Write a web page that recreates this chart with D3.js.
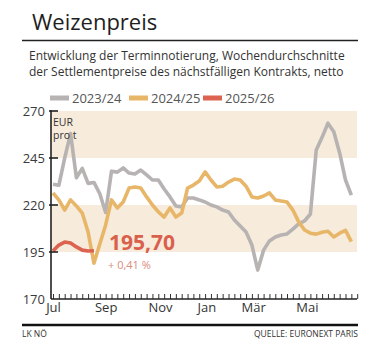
<!DOCTYPE html>
<html><head><meta charset="utf-8">
<script src="https://cdn.jsdelivr.net/npm/d3@7"></script>
<style>
html,body{margin:0;padding:0;background:#fff;}
svg{display:block;font-family:"Open Sans","Noto Sans",sans-serif;}
</style></head>
<body>
<svg id="c" width="369" height="344"></svg>
<script>
// ---- data ----
const seriesNames = ["2023/24", "2024/25", "2025/26"];
const seriesColors = ["#b8b3b3", "#e8b668", "#db6350"];
const s2023 = [231,230.5,245,258,234.5,239.5,231.5,232,226,216,238,237.5,239.7,237,236.5,238.6,236,233.3,233.3,228.5,224.3,219.5,219,223.7,223.7,222.7,221.6,220,219,217.3,216.3,212,208.8,205.6,198.7,185.4,196,200.9,203,204,204.6,207.2,210,211.5,215.2,249.3,256,263.5,259,247.7,233.3,225.3];
const s2024 = [226.4,222.7,217.3,222.7,219.5,215.7,205.6,189,199.3,209.4,222.7,218.4,221.6,229,229.6,229,224.3,220,216.3,213.6,218.4,213.6,215.7,229,230.6,232.8,237.6,233.3,229.6,230,232.2,233.8,233.3,230,224.3,223.7,224.8,226.4,222.7,222.1,221.6,217.3,211,206.7,205,204.5,205.5,206,203,205,206.5,200.5];
const s2025 = [195.5,198.7,200.3,199.8,197.7,196,195.5,195.7];
const yTicks = [170,195,220,245,270];
const bands = [[245,270],[195,220]];
const monthLabels = ["Jul","Sep","Nov","Jan","Mär","Mai"];
const monthWeeks = [0,9,18.3,26.2,34.2,43.4];
const lastValue = "195,70";
const lastChange = "+ 0,41 %";

const svg = d3.select("#c");
const x = d3.scaleLinear().domain([0,52]).range([53,357.2]);
const y = d3.scaleLinear().domain([170,270]).range([299,111]);
const x0 = 51, x1 = 357;

// title
svg.append("text").attr("x",32).attr("y",30).attr("font-size",22).attr("fill","#1e1e1e").text("Weizenpreis");
svg.append("line").attr("x1",22).attr("x2",358).attr("y1",40.5).attr("y2",40.5).attr("stroke","#222").attr("stroke-width",1.5);
svg.append("text").attr("x",29).attr("y",60).attr("font-size",12).attr("fill","#333").text("Entwicklung der Terminnotierung, Wochendurchschnitte");
svg.append("text").attr("x",29).attr("y",76).attr("font-size",12).attr("fill","#333").text("der Settlementpreise des nächstfälligen Kontrakts, netto");

// legend
const legX = [50,129,203];
seriesNames.forEach((n,i)=>{
  svg.append("rect").attr("x",legX[i]).attr("y",95.5).attr("width",19).attr("height",5).attr("fill",seriesColors[i]);
  svg.append("text").attr("x",legX[i]+22).attr("y",103).attr("font-size",13).attr("fill","#555").text(n);
});

// bands
svg.append("g").selectAll("rect").data(bands).join("rect")
  .attr("x",x0).attr("width",x1-x0)
  .attr("y",d=>y(d[1])).attr("height",d=>y(d[0])-y(d[1]))
  .attr("fill","#f7ebdb");

// lines
const line = d3.line().x((d,i)=>x(i)).y(d=>y(d));
[s2023,s2024,s2025].forEach((s,i)=>{
  svg.append("path").datum(s).attr("d",line).attr("fill","none")
    .attr("stroke",seriesColors[i]).attr("stroke-width",3.6)
    .attr("stroke-linejoin","round").attr("stroke-linecap","butt");
});

// y axis
const ya = svg.append("g").attr("transform",`translate(${x0},0)`)
  .call(d3.axisLeft(y).tickValues(yTicks).tickSize(0).tickPadding(6));
ya.select(".domain").remove();
ya.selectAll("text").attr("font-size",13).attr("fill","#3a3a3a").attr("font-family","Open Sans");
svg.append("g").selectAll("line").data(yTicks.filter(v=>v>170)).join("line")
  .attr("x1",x0-2).attr("x2",x0+7).attr("y1",d=>y(d)).attr("y2",d=>y(d))
  .attr("stroke","#222").attr("stroke-width",1.6);
svg.append("line").attr("x1",x0).attr("x2",x0).attr("y1",y(270)-0.8).attr("y2",y(170)).attr("stroke","#222").attr("stroke-width",1.6);

// x axis
const xa = svg.append("g").attr("transform",`translate(0,${y(170)})`)
  .call(d3.axisTop(x).tickValues(d3.range(0,53)).tickSize(5).tickFormat(""));
xa.select(".domain").remove();
xa.selectAll("line").attr("stroke","#333").attr("stroke-width",1);
svg.append("line").attr("x1",x0).attr("x2",x1).attr("y1",y(170)).attr("y2",y(170)).attr("stroke","#222").attr("stroke-width",1.6);
const xm = svg.append("g").attr("transform",`translate(0,${y(170)})`)
  .call(d3.axisBottom(x).tickValues(monthWeeks).tickSize(0).tickPadding(4).tickFormat((d,i)=>monthLabels[i]));
xm.select(".domain").remove();
xm.selectAll("text").attr("font-size",13).attr("fill","#333").attr("font-family","Open Sans");

// unit
svg.append("text").attr("x",53).attr("y",126).attr("font-size",10.5).attr("fill","#333").text("EUR");
svg.append("text").attr("x",53).attr("y",138.5).attr("font-size",10.5).attr("fill","#333").text("pro t");

// last value
svg.append("text").attr("x",109).attr("y",250).attr("font-size",21).attr("font-weight","bold").attr("fill","#d9604c").text(lastValue);
svg.append("text").attr("x",108).attr("y",268.5).attr("font-size",11).attr("fill","#d98b7e").text(lastChange);

// footer
svg.append("line").attr("x1",22).attr("x2",358).attr("y1",325).attr("y2",325).attr("stroke","#111").attr("stroke-width",2.4);
svg.append("text").attr("x",22).attr("y",337).attr("font-size",8.5).attr("fill","#333").text("LK NÖ");
svg.append("text").attr("x",358).attr("y",337).attr("text-anchor","end").attr("font-size",8.5).attr("fill","#333").text("QUELLE: EURONEXT PARIS");
</script>
</body></html>
